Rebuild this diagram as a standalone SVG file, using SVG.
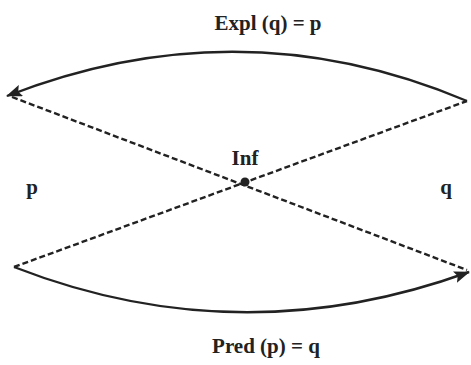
<svg xmlns="http://www.w3.org/2000/svg" width="471" height="365" viewBox="0 0 471 365">
<style>
.lbl{font-family:"Liberation Serif","DejaVu Serif",serif;font-weight:bold;font-size:21px;fill:#222}
.arc{fill:none;stroke:#222;stroke-width:2.4}
.dash{fill:none;stroke:#222;stroke-width:2.4;stroke-dasharray:6,3}
</style>
<defs>
<marker id="ah" viewBox="0 0 16 12" refX="15" refY="6" markerWidth="16" markerHeight="12" markerUnits="userSpaceOnUse" orient="auto">
<path d="M0,0 L16,6 L0,12 L3,6 Z" fill="#222"/>
</marker>
</defs>
<rect width="471" height="365" fill="#fff"/>
<g id="connectors">
<path class="arc" d="M467,101 Q240,5 7,96" marker-end="url(#ah)"/>
<path class="arc" d="M14,267 Q240,355 469,272" marker-end="url(#ah)"/>
<path class="dash" d="M12,97 L467,270"/>
<path class="dash" d="M14,267 L467,101"/>
</g>
<g id="inf">
<circle cx="245" cy="182" r="4.5" fill="#222"/>
<text class="lbl" x="245" y="165" text-anchor="middle">Inf</text>
</g>
<g id="p"><text class="lbl" x="32" y="194" text-anchor="middle">p</text></g>
<g id="q"><text class="lbl" x="446" y="194" text-anchor="middle">q</text></g>
<g id="expl"><text class="lbl" x="268" y="30" text-anchor="middle">Expl (q) = p</text></g>
<g id="pred"><text class="lbl" x="266" y="353" text-anchor="middle">Pred (p) = q</text></g>
</svg>
